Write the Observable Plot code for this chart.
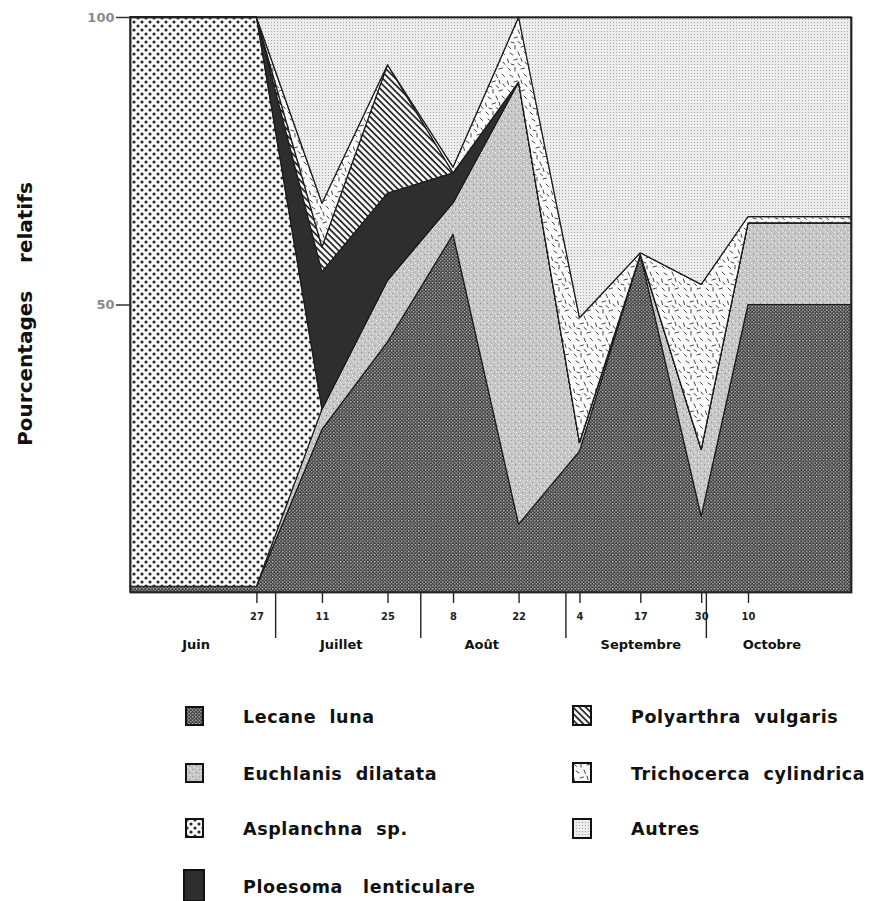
<!DOCTYPE html>
<html>
<head>
<meta charset="utf-8">
<script src="https://cdn.jsdelivr.net/npm/d3@7"></script>
<script src="https://cdn.jsdelivr.net/npm/@observablehq/plot@0.6"></script>
<style>
  html, body { margin: 0; padding: 0; background: #fff; }
  body { position: relative; width: 883px; height: 901px; overflow: hidden; font-family: "DejaVu Sans", sans-serif; }
  #chart svg { display: block; }
  .sw { position: absolute; }
  .lt { position: absolute; font-family: "DejaVu Sans", sans-serif; font-weight: bold; font-size: 17.5px; color: #111; white-space: pre; transform: translateY(-50%); letter-spacing: 0.6px; }
</style>
</head>
<body>
<svg width="0" height="0" style="position:absolute">
  <defs>
    <pattern id="p-lecane" width="3.4" height="3.4" patternUnits="userSpaceOnUse">
      <rect width="3.4" height="3.4" fill="#3e3e3e"/>
      <rect x="0" y="0" width="1.3" height="1.3" fill="#d4d4d4"/>
      <rect x="1.7" y="1.7" width="1.3" height="1.3" fill="#acacac"/>
    </pattern>
    <pattern id="p-euchlanis" width="7" height="7" patternUnits="userSpaceOnUse">
      <rect width="7" height="7" fill="#c6c6c6"/>
      <rect x="1" y="1" width="1" height="1" fill="#f2f2f2"/>
      <rect x="4" y="2" width="1" height="1" fill="#8a8a8a"/>
      <rect x="2" y="4" width="1" height="1" fill="#ececec"/>
      <rect x="5" y="5" width="1" height="1" fill="#f4f4f4"/>
      <rect x="0" y="6" width="1" height="1" fill="#999"/>
      <rect x="6" y="0" width="1" height="1" fill="#e6e6e6"/>
    </pattern>
    <pattern id="p-asplanchna" width="8" height="8" patternUnits="userSpaceOnUse">
      <rect width="8" height="8" fill="#fafafa"/>
      <circle cx="2" cy="2" r="1.55" fill="#262626"/>
      <circle cx="6" cy="6" r="1.55" fill="#262626"/>
    </pattern>
    <pattern id="p-polyarthra" width="4.5" height="4.5" patternUnits="userSpaceOnUse" patternTransform="rotate(45)">
      <rect width="4.5" height="4.5" fill="#fafafa"/>
      <rect x="0" y="0" width="4.5" height="1.7" fill="#222"/>
    </pattern>
    <pattern id="p-trichocerca" width="22" height="22" patternUnits="userSpaceOnUse">
      <rect width="22" height="22" fill="#fbfbfb"/>
      <g stroke="#444" stroke-width="1" stroke-linecap="round">
        <line x1="2" y1="2" x2="4.5" y2="4.5"/>
        <line x1="9" y1="1.5" x2="9" y2="5"/>
        <line x1="15" y1="3" x2="18.5" y2="2"/>
        <line x1="4" y1="9" x2="7" y2="11"/>
        <line x1="12" y1="8" x2="13.5" y2="11.5"/>
        <line x1="18" y1="8" x2="20.5" y2="10.5"/>
        <line x1="1.5" y1="15" x2="2.5" y2="18.5"/>
        <line x1="8" y1="16" x2="11.5" y2="15"/>
        <line x1="15" y1="14" x2="16" y2="17.5"/>
        <line x1="19" y1="18" x2="21" y2="20.5"/>
        <line x1="5" y1="20" x2="8" y2="21"/>
        <line x1="12" y1="19.5" x2="14.5" y2="21.5"/>
      </g>
    </pattern>
    <pattern id="p-autres" width="3" height="3" patternUnits="userSpaceOnUse">
      <rect width="3" height="3" fill="#ededed"/>
      <rect x="1" y="1" width="1" height="1" fill="#a4a4a4"/>
    </pattern>
  </defs>
</svg>
<div id="chart"></div>
<div id="legend"></div>
<script>
// ---- data ----
const dates = ["2001-05-31", "2001-06-27", "2001-07-11", "2001-07-25", "2001-08-08", "2001-08-22", "2001-09-04", "2001-09-17", "2001-09-30", "2001-10-10", "2001-11-01"];
const species = ["Lecane luna", "Euchlanis dilatata", "Asplanchna sp.", "Ploesoma lenticulare", "Polyarthra vulgaris", "Trichocerca cylindrica", "Autres"];
const lecane      = [1, 1, 28.3, 43.5, 62.2, 11.8, 24.5, 58.7, 13.2, 50, 50];
const euchlanis   = [0, 0, 3.5, 10.7, 5.5, 76.9, 1.5, 0, 11.6, 14.2, 14.2];
const asplanchna  = [99, 99, 0, 0, 0, 0, 0, 0, 0, 0, 0];
const ploesoma    = [0, 0, 23.9, 15.2, 5.2, 0, 0, 0, 0, 0, 0];
const polyarthra  = [0, 0, 4.3, 22.3, 0, 0, 0, 0, 0, 0, 0];
const trichocerca = [0, 0, 7.6, 0, 1, 11.3, 21.7, 0.3, 28.7, 1.1, 1.1];
const autres      = [0, 0, 32.4, 8.3, 26.1, 0, 52.3, 41.0, 46.5, 34.7, 34.7];

const xDomain = ["2001-05-31", "2001-11-01"];
const dayTickDates = ["2001-06-27", "2001-07-11", "2001-07-25", "2001-08-08", "2001-08-22", "2001-09-04", "2001-09-17", "2001-09-30", "2001-10-10"];
const dayTickLabels = ["27", "11", "25", "8", "22", "4", "17", "30", "10"];
const monthStarts = ["2001-07-01", "2001-08-01", "2001-09-01", "2001-10-01"];
const monthLabelDates = ["2001-06-14", "2001-07-15", "2001-08-14", "2001-09-17", "2001-10-15"];
const monthLabels = ["Juin", "Juillet", "Août", "Septembre", "Octobre"];
const yTicks = [50, 100];
const yTickLabels = ["50", "100"];
const yLabel = "Pourcentages\u00a0\u00a0\u00a0\u00a0relatifs";
const legendLabels = ["Lecane\u00a0 luna", "Euchlanis\u00a0 dilatata", "Asplanchna\u00a0 sp.", "Ploesoma\u00a0\u00a0 lenticulare", "Polyarthra\u00a0 vulgaris", "Trichocerca\u00a0 cylindrica", "Autres"];

// ---- styles ----
const fills = ["url(#p-lecane)", "url(#p-euchlanis)", "url(#p-asplanchna)", "#2e2e2e", "url(#p-polyarthra)", "url(#p-trichocerca)", "url(#p-autres)"];

const parse = d3.utcParse("%Y-%m-%d");
const series = [lecane, euchlanis, asplanchna, ploesoma, polyarthra, trichocerca, autres];
const rows = [];
species.forEach((s, k) => dates.forEach((d, i) => rows.push({date: parse(d), species: s, value: series[k][i]})));

const dayLabelMap = new Map(dayTickDates.map((d, i) => [+parse(d), dayTickLabels[i]]));
const monthLabelMap = new Map(monthLabelDates.map((d, i) => [+parse(d), monthLabels[i]]));
const yLabelMap = new Map(yTicks.map((v, i) => [v, yTickLabels[i]]));

const chart = Plot.plot({
  width: 883,
  height: 662,
  marginLeft: 130,
  marginRight: 32,
  marginTop: 17,
  marginBottom: 70,
  style: {background: "white", fontFamily: "DejaVu Sans, sans-serif", overflow: "visible"},
  x: {type: "utc", domain: xDomain.map(parse), label: null},
  y: {domain: [0, 100], label: null},
  color: {domain: species, range: fills},
  marks: [
    Plot.areaY(rows, {x: "date", y: "value", z: "species", fill: "species", order: species, stroke: "#1c1c1c", strokeWidth: 1.2, strokeLinejoin: "round"}),
    Plot.frame({stroke: "#222", strokeWidth: 1.8}),
    Plot.axisY({ticks: yTicks, tickSize: 14, tickPadding: 2, tickFormat: d => yLabelMap.get(d), fontSize: 13, fontWeight: "bold", stroke: "#333", fill: "#8a8a8a", strokeWidth: 1.5, label: null}),
    Plot.axisX({ticks: dayTickDates.map(parse), tickSize: 11, tickPadding: 9, tickFormat: d => dayLabelMap.get(+d), fontSize: 11, fontWeight: "bold", fontFamily: "DejaVu Sans Condensed, DejaVu Sans, sans-serif", stroke: "#222", fill: "#222", strokeWidth: 1.4, label: null}),
    Plot.axisX({ticks: monthStarts.map(parse), tickSize: 46, tickFormat: () => "", stroke: "#222", strokeWidth: 1.4, label: null}),
    Plot.axisX({ticks: monthLabelDates.map(parse), tickSize: 0, tickPadding: 47, tickFormat: d => monthLabelMap.get(+d), fontSize: 13, fontWeight: "bold", fill: "#111", label: null}),
    Plot.text([yLabel], {frameAnchor: "left", textAnchor: "middle", rotate: -90, dx: -105, dy: 9, fontSize: 20, fontWeight: "bold", fill: "#111", text: d => d})
  ]
});
document.getElementById("chart").appendChild(chart);

// ---- legend ----
const legend = document.getElementById("legend");
const legendPos = [
  {sx: 185, sy: 706, sw: 19, sh: 20, tx: 243, ty: 717},
  {sx: 185, sy: 763, sw: 19, sh: 20, tx: 243, ty: 774},
  {sx: 185, sy: 818, sw: 19, sh: 20, tx: 243, ty: 829},
  {sx: 183, sy: 869, sw: 22, sh: 33, tx: 243, ty: 887},
  {sx: 572, sy: 705, sw: 20, sh: 21, tx: 631, ty: 717},
  {sx: 572, sy: 762, sw: 20, sh: 21, tx: 631, ty: 774},
  {sx: 572, sy: 818, sw: 20, sh: 21, tx: 631, ty: 829}
];
species.forEach((s, i) => {
  const p = legendPos[i];
  const svgNS = "http://www.w3.org/2000/svg";
  const sw = document.createElementNS(svgNS, "svg");
  sw.setAttribute("class", "sw");
  sw.setAttribute("width", p.sw);
  sw.setAttribute("height", p.sh);
  sw.style.left = p.sx + "px";
  sw.style.top = p.sy + "px";
  const r = document.createElementNS(svgNS, "rect");
  r.setAttribute("x", 1); r.setAttribute("y", 1);
  r.setAttribute("width", p.sw - 2); r.setAttribute("height", p.sh - 2);
  r.setAttribute("fill", fills[i]);
  r.setAttribute("stroke", "#111");
  r.setAttribute("stroke-width", 2);
  sw.appendChild(r);
  legend.appendChild(sw);
  const t = document.createElement("div");
  t.className = "lt";
  t.style.left = p.tx + "px";
  t.style.top = p.ty + "px";
  t.textContent = legendLabels[i];
  legend.appendChild(t);
});
</script>
</body>
</html>
